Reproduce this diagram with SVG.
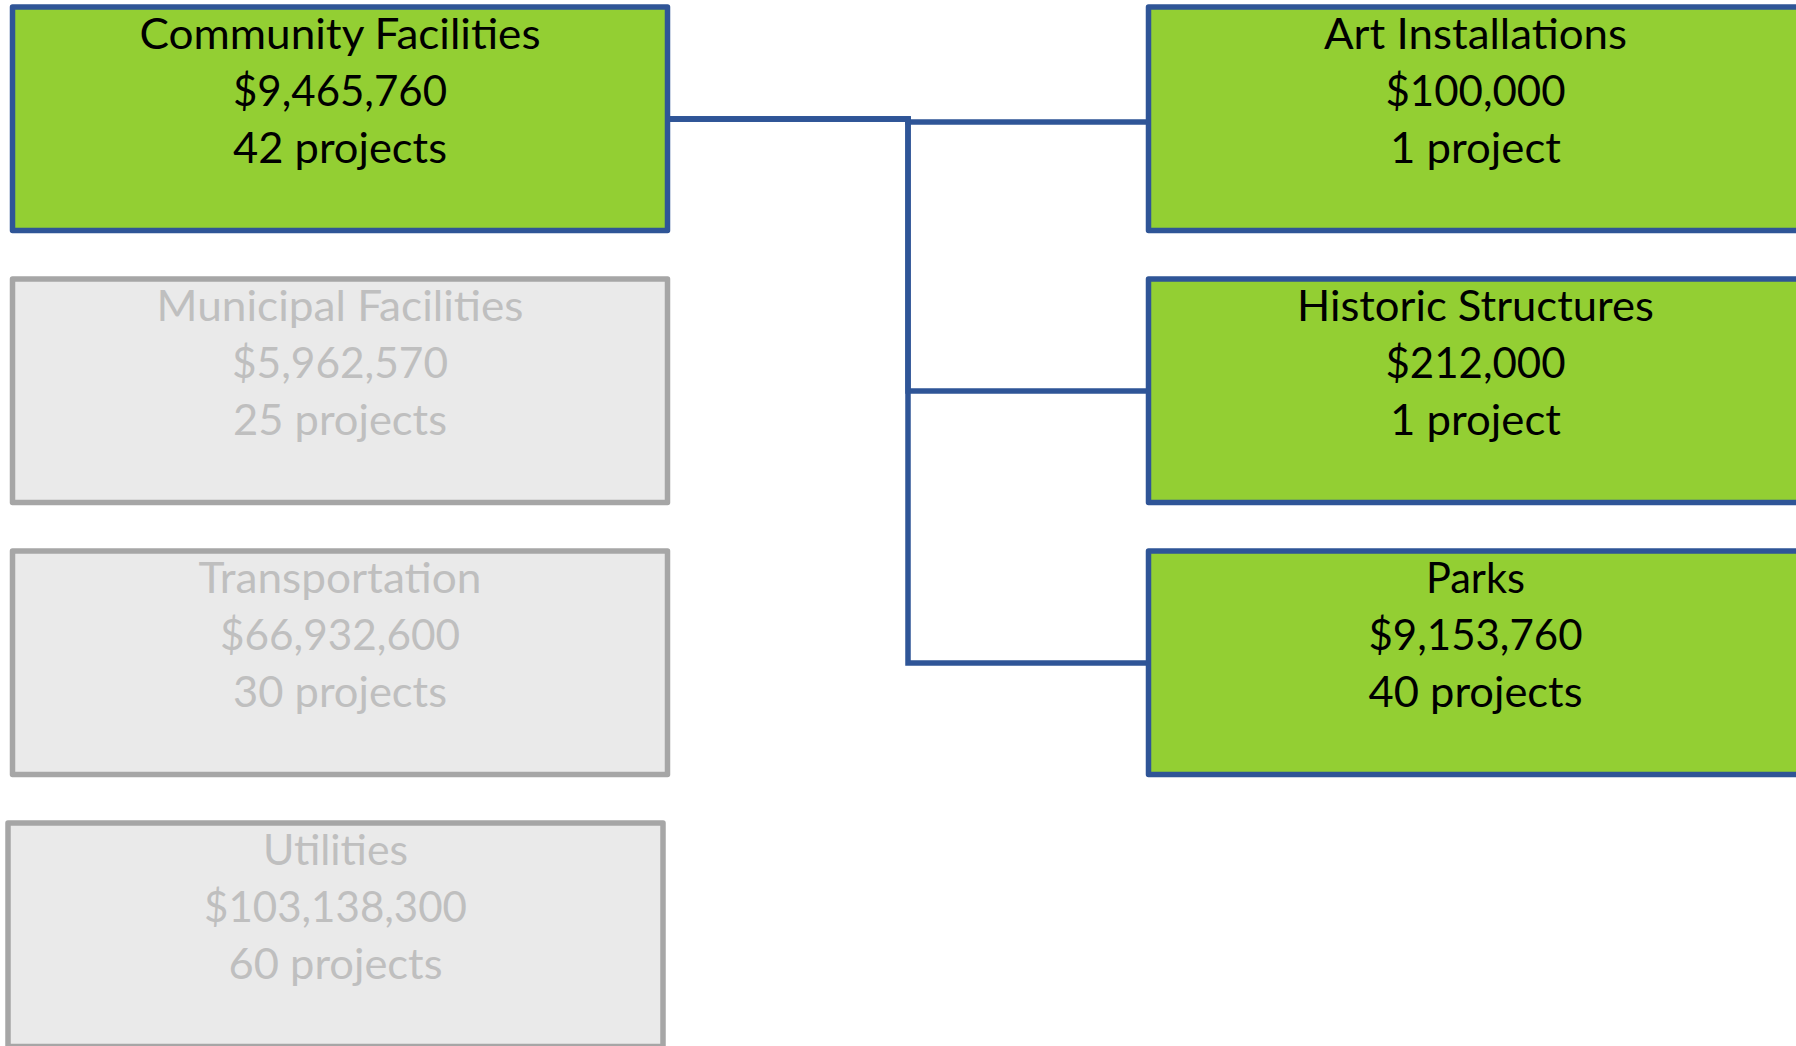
<svg xmlns="http://www.w3.org/2000/svg" width="1796" height="1046" viewBox="0 0 1796 1046">
<style>
.on rect{fill:#93CF33;stroke:#2F5597;stroke-width:5.5;stroke-linejoin:round}
.off rect{fill:#EAEAEA;stroke:#A6A6A6;stroke-width:5.5;stroke-linejoin:round}
text{font-family:Lato,"Open Sans","Liberation Sans",sans-serif;font-size:43px;text-anchor:middle}
.on text{fill:#000000}
.off text{fill:#BFBFBF}
.conn path{fill:none;stroke:#2F5597;stroke-width:5.5;stroke-linejoin:miter}
</style>
<rect width="1796" height="1046" fill="#FFFFFF"/>
<g class="conn" id="connectors">
<path d="M668,119 H908 V122 H1148"/>
<path d="M668,119 H908 V391 H1148"/>
<path d="M668,119 H908 V663 H1148"/>
</g>
<g id="community" class="on">
<rect x="12.5" y="7" width="655" height="223.5"/>
<text x="340" y="49" textLength="401" lengthAdjust="spacingAndGlyphs">Community Facilities</text>
<text x="340" y="106" textLength="214" lengthAdjust="spacingAndGlyphs">$9,465,760</text>
<text x="340" y="163" textLength="214" lengthAdjust="spacingAndGlyphs">42 projects</text>
</g>
<g id="municipal" class="off">
<rect x="12.5" y="279" width="655" height="223.5"/>
<text x="340" y="321" textLength="367" lengthAdjust="spacingAndGlyphs">Municipal Facilities</text>
<text x="340" y="378" textLength="216" lengthAdjust="spacingAndGlyphs">$5,962,570</text>
<text x="340" y="435" textLength="214" lengthAdjust="spacingAndGlyphs">25 projects</text>
</g>
<g id="transportation" class="off">
<rect x="12.5" y="551" width="655" height="223.5"/>
<text x="340" y="593" textLength="283" lengthAdjust="spacingAndGlyphs">Transportation</text>
<text x="340" y="650" textLength="240" lengthAdjust="spacingAndGlyphs">$66,932,600</text>
<text x="340" y="707" textLength="214" lengthAdjust="spacingAndGlyphs">30 projects</text>
</g>
<g id="utilities" class="off">
<rect x="8" y="823" width="655" height="223.5"/>
<text x="335.5" y="865" textLength="145" lengthAdjust="spacingAndGlyphs">Utilities</text>
<text x="335.5" y="922" textLength="263" lengthAdjust="spacingAndGlyphs">$103,138,300</text>
<text x="335.5" y="979" textLength="214" lengthAdjust="spacingAndGlyphs">60 projects</text>
</g>
<g id="art" class="on">
<rect x="1148.5" y="7" width="655" height="223.5"/>
<text x="1475.5" y="49" textLength="303" lengthAdjust="spacingAndGlyphs">Art Installations</text>
<text x="1475.5" y="106" textLength="180" lengthAdjust="spacingAndGlyphs">$100,000</text>
<text x="1475.5" y="163" textLength="171" lengthAdjust="spacingAndGlyphs">1 project</text>
</g>
<g id="historic" class="on">
<rect x="1148.5" y="279" width="655" height="223.5"/>
<text x="1475.5" y="321" textLength="357" lengthAdjust="spacingAndGlyphs">Historic Structures</text>
<text x="1475.5" y="378" textLength="180" lengthAdjust="spacingAndGlyphs">$212,000</text>
<text x="1475.5" y="435" textLength="171" lengthAdjust="spacingAndGlyphs">1 project</text>
</g>
<g id="parks" class="on">
<rect x="1148.5" y="551" width="655" height="223.5"/>
<text x="1475.5" y="593" textLength="99" lengthAdjust="spacingAndGlyphs">Parks</text>
<text x="1475.5" y="650" textLength="214" lengthAdjust="spacingAndGlyphs">$9,153,760</text>
<text x="1475.5" y="707" textLength="214" lengthAdjust="spacingAndGlyphs">40 projects</text>
</g>
</svg>
